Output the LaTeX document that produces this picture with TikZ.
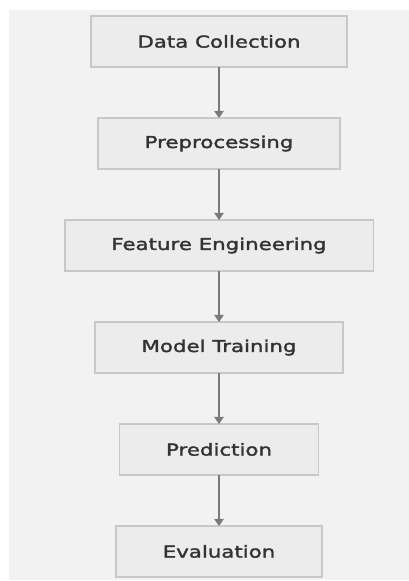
\documentclass[tikz,border=0pt]{standalone}
\usepackage{fontspec}
\setmainfont{DejaVu Sans}[FakeStretch=1.3,FakeBold=1.9]
\usetikzlibrary{positioning,arrows.meta}
\definecolor{panelgray}{HTML}{F2F2F2}
\definecolor{boxfill}{HTML}{ECECEC}
\definecolor{boxline}{HTML}{C8C8C8}
\definecolor{arrowgray}{HTML}{7A7A7A}
\definecolor{textdark}{HTML}{333333}
\tikzset{
    stage/.style={draw=boxline, fill=boxfill, line width=1.2pt, minimum height=38pt,
        outer sep=0pt, inner xsep=35pt, text=textdark, font=\fontsize{12.3pt}{14pt}\selectfont},
    flow/.style={draw=arrowgray, line width=1.5pt, -{Triangle[width=7pt,length=5.5pt]}}
}
\begin{document}
\begin{tikzpicture}[node distance=38.5pt]
        \useasboundingbox (0,0) rectangle (306.75pt,-435.75pt);
        \fill[panelgray] (6.75pt,-7.5pt) rectangle (306.75pt,-435pt);

        \node[stage] (collect) at (164.25pt,-31.1pt) {Data Collection};
        \node[stage, below=of collect] (prep) {Preprocessing};
        \node[stage, below=of prep] (feat) {Feature Engineering};
        \node[stage, below=of feat] (train) {Model Training};
        \node[stage, below=of train] (predict) {Prediction};
        \node[stage, below=of predict] (evaluate) {Evaluation};

        \foreach \a/\b in {collect/prep,prep/feat,feat/train,train/predict,predict/evaluate}
            \draw[flow] (\a) -- (\b);
    \end{tikzpicture}
\end{document}
